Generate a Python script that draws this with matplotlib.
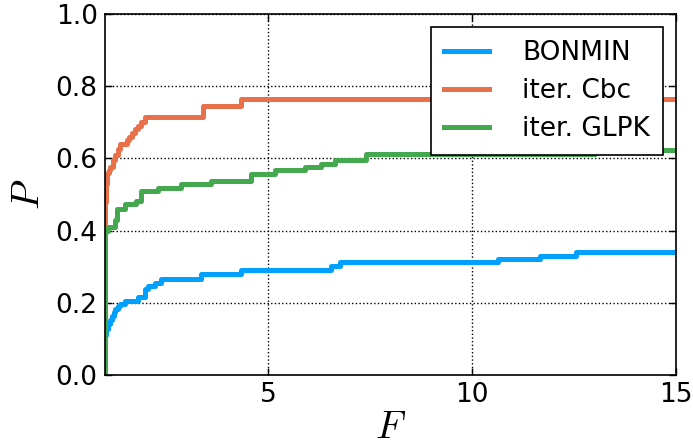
import matplotlib
matplotlib.use("Agg")
import matplotlib.pyplot as plt

# Series data (step functions: P holds from F[i] until F[i+1])
F_bonmin = [1.0, 1.0, 1.02, 1.04, 1.07, 1.09, 1.13, 1.18, 1.22, 1.26, 1.32, 1.38, 1.50, 1.82, 1.99, 2.06, 2.23, 2.39, 3.36, 4.33, 6.55, 6.76, 10.64, 11.65, 12.54, 15.0]
P_bonmin = [0.0, 0.08, 0.11, 0.128, 0.135, 0.14, 0.152, 0.164, 0.174, 0.183, 0.19, 0.197, 0.206, 0.215, 0.238, 0.247, 0.256, 0.266, 0.281, 0.291, 0.301, 0.312, 0.321, 0.330, 0.340, 0.340]

F_cbc = [1.0, 1.0, 1.02, 1.04, 1.06, 1.10, 1.14, 1.20, 1.26, 1.32, 1.38, 1.54, 1.60, 1.66, 1.74, 1.82, 1.90, 1.99, 3.40, 4.33, 15.0]
P_cbc = [0.0, 0.40, 0.48, 0.53, 0.56, 0.568, 0.575, 0.595, 0.61, 0.625, 0.64, 0.65, 0.66, 0.67, 0.68, 0.69, 0.70, 0.715, 0.744, 0.763, 0.763]

F_glpk = [1.0, 1.0, 1.02, 1.09, 1.26, 1.30, 1.50, 1.78, 1.90, 2.30, 2.88, 3.60, 4.58, 5.18, 5.90, 6.30, 6.64, 7.40, 13.0, 15.0]
P_glpk = [0.0, 0.36, 0.40, 0.41, 0.428, 0.46, 0.474, 0.483, 0.509, 0.517, 0.528, 0.537, 0.557, 0.567, 0.576, 0.585, 0.594, 0.612, 0.622, 0.622]

labels = ["BONMIN", "iter. Cbc", "iter. GLPK"]
colors = ["#00a0ff", "#e8714a", "#44a84e"]

plt.rcParams['mathtext.fontset'] = 'cm'
plt.rcParams['font.family'] = ['DejaVu Sans']

fig = plt.figure(figsize=(6.93, 4.48), dpi=100)
ax = fig.add_axes([0.151, 0.163, 0.825, 0.806])

for F, P, lab, c in zip([F_bonmin, F_cbc, F_glpk], [P_bonmin, P_cbc, P_glpk], labels, colors):
    ax.plot(F, P, drawstyle='steps-post', color=c, lw=3.6, label=lab)

ax.set_xlim(1, 15)
ax.set_ylim(0, 1.0)
ax.set_xticks([5, 10, 15])
ax.set_yticks([0.0, 0.2, 0.4, 0.6, 0.8, 1.0])
ax.set_yticklabels(["0.0", "0.2", "0.4", "0.6", "0.8", "1.0"])
ax.tick_params(direction='in', labelsize=19, length=5, width=1, top=True, right=True, pad=5)
ax.grid(True, color='black', linestyle=':', linewidth=1)
ax.set_xlabel(r'$F$', fontsize=28, labelpad=0)
ax.set_ylabel(r'$P$', fontsize=28, labelpad=6)
for s in ax.spines.values():
    s.set_linewidth(1.2)

leg = ax.legend(loc='upper right', fontsize=19, fancybox=False, framealpha=1,
                edgecolor='black', handlelength=1.7, borderpad=0.5,
                labelspacing=0.45, handletextpad=1.25, borderaxespad=0.5)
leg.get_frame().set_linewidth(1.2)

fig.savefig("out.png", dpi=100)
